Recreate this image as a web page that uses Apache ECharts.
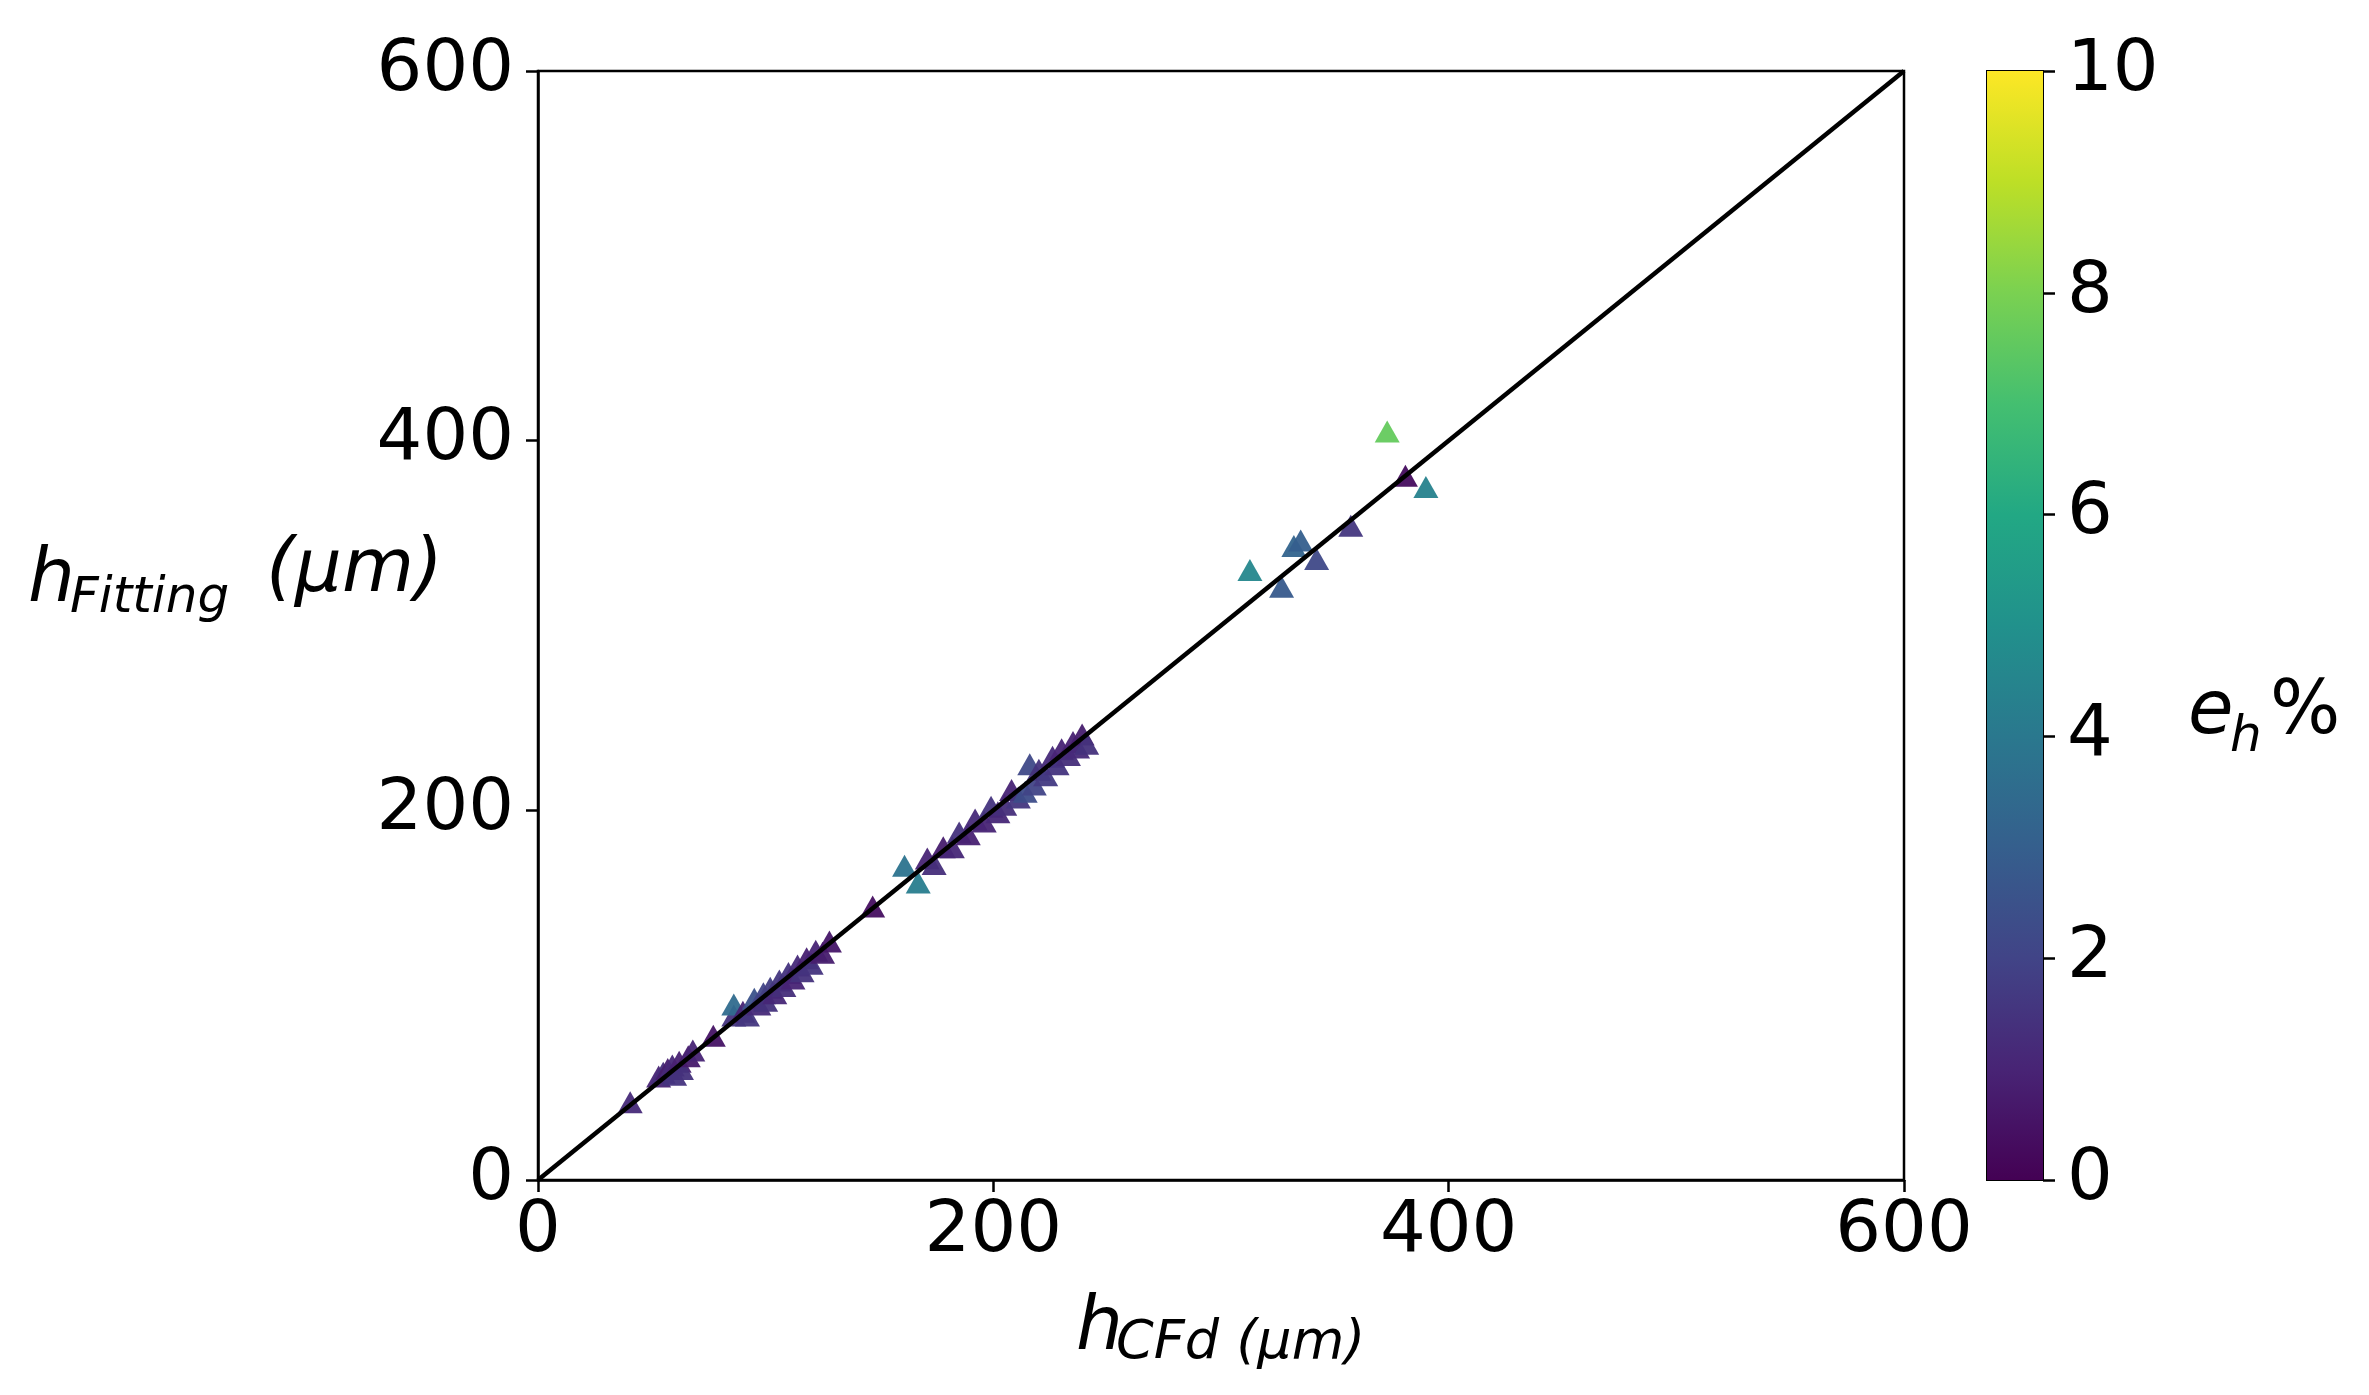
<!DOCTYPE html>
<html><head><meta charset="utf-8">
<script src="https://cdn.jsdelivr.net/npm/echarts@6/dist/echarts.min.js"></script>
<style>html,body{margin:0;padding:0;background:#fff}#c{width:2369px;height:1395px}</style>
</head><body><div id="c"></div>
<script>
// ---- data ----
const hCFd = [40.5,53,55,57,59,60,62,63,66,68, 77,86,86,90,92,95,97,99,100,102, 104,106,108,110,112,114,116,118,120,122, 125,128,147,161,167,171,174,178,182,185, 189,192,196,199,202,205,208,211,214,216, 218,220,223,226,228,230,233,235,237,239, 241,312.7,326.6,332,335,342,357,373,381,390];
const hFitting = [42,56,58,60,62,57,64,60,67,70, 78,89,95,91,89,98,95,101,97,104, 101,108,105,112,109,116,113,120,117,124, 123,129,148,170,161,174,171,180,180,188, 187,195,194,202,199,203,211,207,210,225, 214,222,219,229,225,233,230,237,234,241, 236,330,321,343,346,336,354,405,381,375];
const ehPercent = [1.2,1.0,1.3,0.8,1.1,1.5,0.9,1.4,0.7,1.0, 0.5,1.5,3.5,1.0,1.6,2.5,1.2,2.0,1.4,1.8, 1.1,1.6,1.3,1.5,1.0,1.2,1.4,0.9,1.5,1.0, 0.8,0.6,0.4,3.8,4.2,1.0,1.3,0.8,1.1,1.4, 0.9,1.2,1.0,1.5,1.1,1.3,1.0,1.6,2.3,2.2, 2.0,1.4,1.7,1.2,1.5,1.0,1.3,0.9,1.2,0.8, 1.4,4.6,2.8,3.2,3.0,2.2,1.6,7.6,0.3,4.4];
const identityLine = [[0,0],[600,600]];
const axisRange = [0, 600];
const axisInterval = 200;
const colorRange = [0, 10];
const colorInterval = 2;
const colorbarValue = [10];

const viridis = ['#440154','#482475','#414487','#355f8d','#2a788e','#21918c','#22a884','#44bf70','#7ad151','#bddf26','#fde725'];
const FONT = 'DejaVu Sans';

const points = hCFd.map((x, i) => [x, hFitting[i], ehPercent[i]]);

const chart = echarts.init(document.getElementById('c'), null, {renderer: 'canvas'});
const tickLabel = {color: '#000', fontFamily: FONT, fontSize: 72};
const axLine = {show: true, lineStyle: {color: '#000', width: 2.5}};
const axTick = {show: true, inside: false, length: 12, lineStyle: {color: '#000', width: 2.5}};

chart.setOption({
  backgroundColor: '#fff',
  animation: false,
  grid: [
    {left: 538, top: 71, width: 1366, height: 1109, show: true, borderColor: '#000', borderWidth: 2.5},
    {left: 1987, top: 71, width: 56, height: 1109, show: true, borderColor: '#000', borderWidth: 2}
  ],
  xAxis: [
    {gridIndex: 0, type: 'value', min: axisRange[0], max: axisRange[1], interval: axisInterval,
     axisLine: axLine, axisTick: axTick, splitLine: {show: false},
     axisLabel: Object.assign({margin: 16}, tickLabel)},
    {gridIndex: 1, type: 'category', data: ['c'], show: false}
  ],
  yAxis: [
    {gridIndex: 0, type: 'value', min: axisRange[0], max: axisRange[1], interval: axisInterval,
     axisLine: axLine, axisTick: axTick, splitLine: {show: false},
     axisLabel: Object.assign({margin: 24}, tickLabel)},
    {gridIndex: 1, type: 'value', position: 'right', min: colorRange[0], max: colorRange[1], interval: colorInterval,
     axisLine: {show: true, lineStyle: {color: '#000', width: 2}},
     axisTick: {show: true, inside: false, length: 12, lineStyle: {color: '#000', width: 2.5}},
     splitLine: {show: false},
     axisLabel: Object.assign({margin: 24}, tickLabel)}
  ],
  visualMap: [{
    type: 'continuous', show: false, min: colorRange[0], max: colorRange[1], dimension: 2, seriesIndex: 0,
    inRange: {color: viridis}
  }],
  series: [
    {type: 'scatter', xAxisIndex: 0, yAxisIndex: 0, data: points, symbol: 'triangle', symbolSize: [25, 22],
     itemStyle: {opacity: 0.95}, z: 2},
    {type: 'line', xAxisIndex: 0, yAxisIndex: 0, data: identityLine, showSymbol: false, symbol: 'none',
     lineStyle: {color: '#000', width: 4.5}, z: 3, silent: true},
    {type: 'bar', xAxisIndex: 1, yAxisIndex: 1, data: colorbarValue, barWidth: '100%', barCategoryGap: 0,
     itemStyle: {color: new echarts.graphic.LinearGradient(0, 1, 0, 0,
        viridis.map((c, i) => ({offset: i / (viridis.length - 1), color: c})))}, silent: true}
  ],
  graphic: [
    // y axis title: h_Fitting (μm)
    {type: 'text', left: 28, top: 545, style: {text: 'h', font: 'italic 74px "DejaVu Sans"', fill: '#000'}},
    {type: 'text', left: 70, top: 574, style: {text: 'Fitting', font: 'italic 50px "DejaVu Sans"', fill: '#000'}},
    {type: 'text', left: 266, top: 535, style: {text: '(μm)', font: 'italic 74px "DejaVu Sans"', fill: '#000'}},
    // x axis title: h_CFd (μm)
    {type: 'text', left: 1076, top: 1293, style: {text: 'h', font: 'italic 74px "DejaVu Sans"', fill: '#000'}},
    {type: 'text', left: 1116, top: 1317, style: {text: 'CFd (μm)', font: 'italic 54px "DejaVu Sans"', fill: '#000'}},
    // colorbar title: e_h%
    {type: 'text', left: 2188, top: 677, style: {text: 'e', font: 'italic 74px "DejaVu Sans"', fill: '#000'}},
    {type: 'text', left: 2230, top: 713, style: {text: 'h', font: 'italic 50px "DejaVu Sans"', fill: '#000'}},
    {type: 'text', left: 2270, top: 677, style: {text: '%', font: '74px "DejaVu Sans"', fill: '#000'}}
  ]
});
</script>
</body></html>
